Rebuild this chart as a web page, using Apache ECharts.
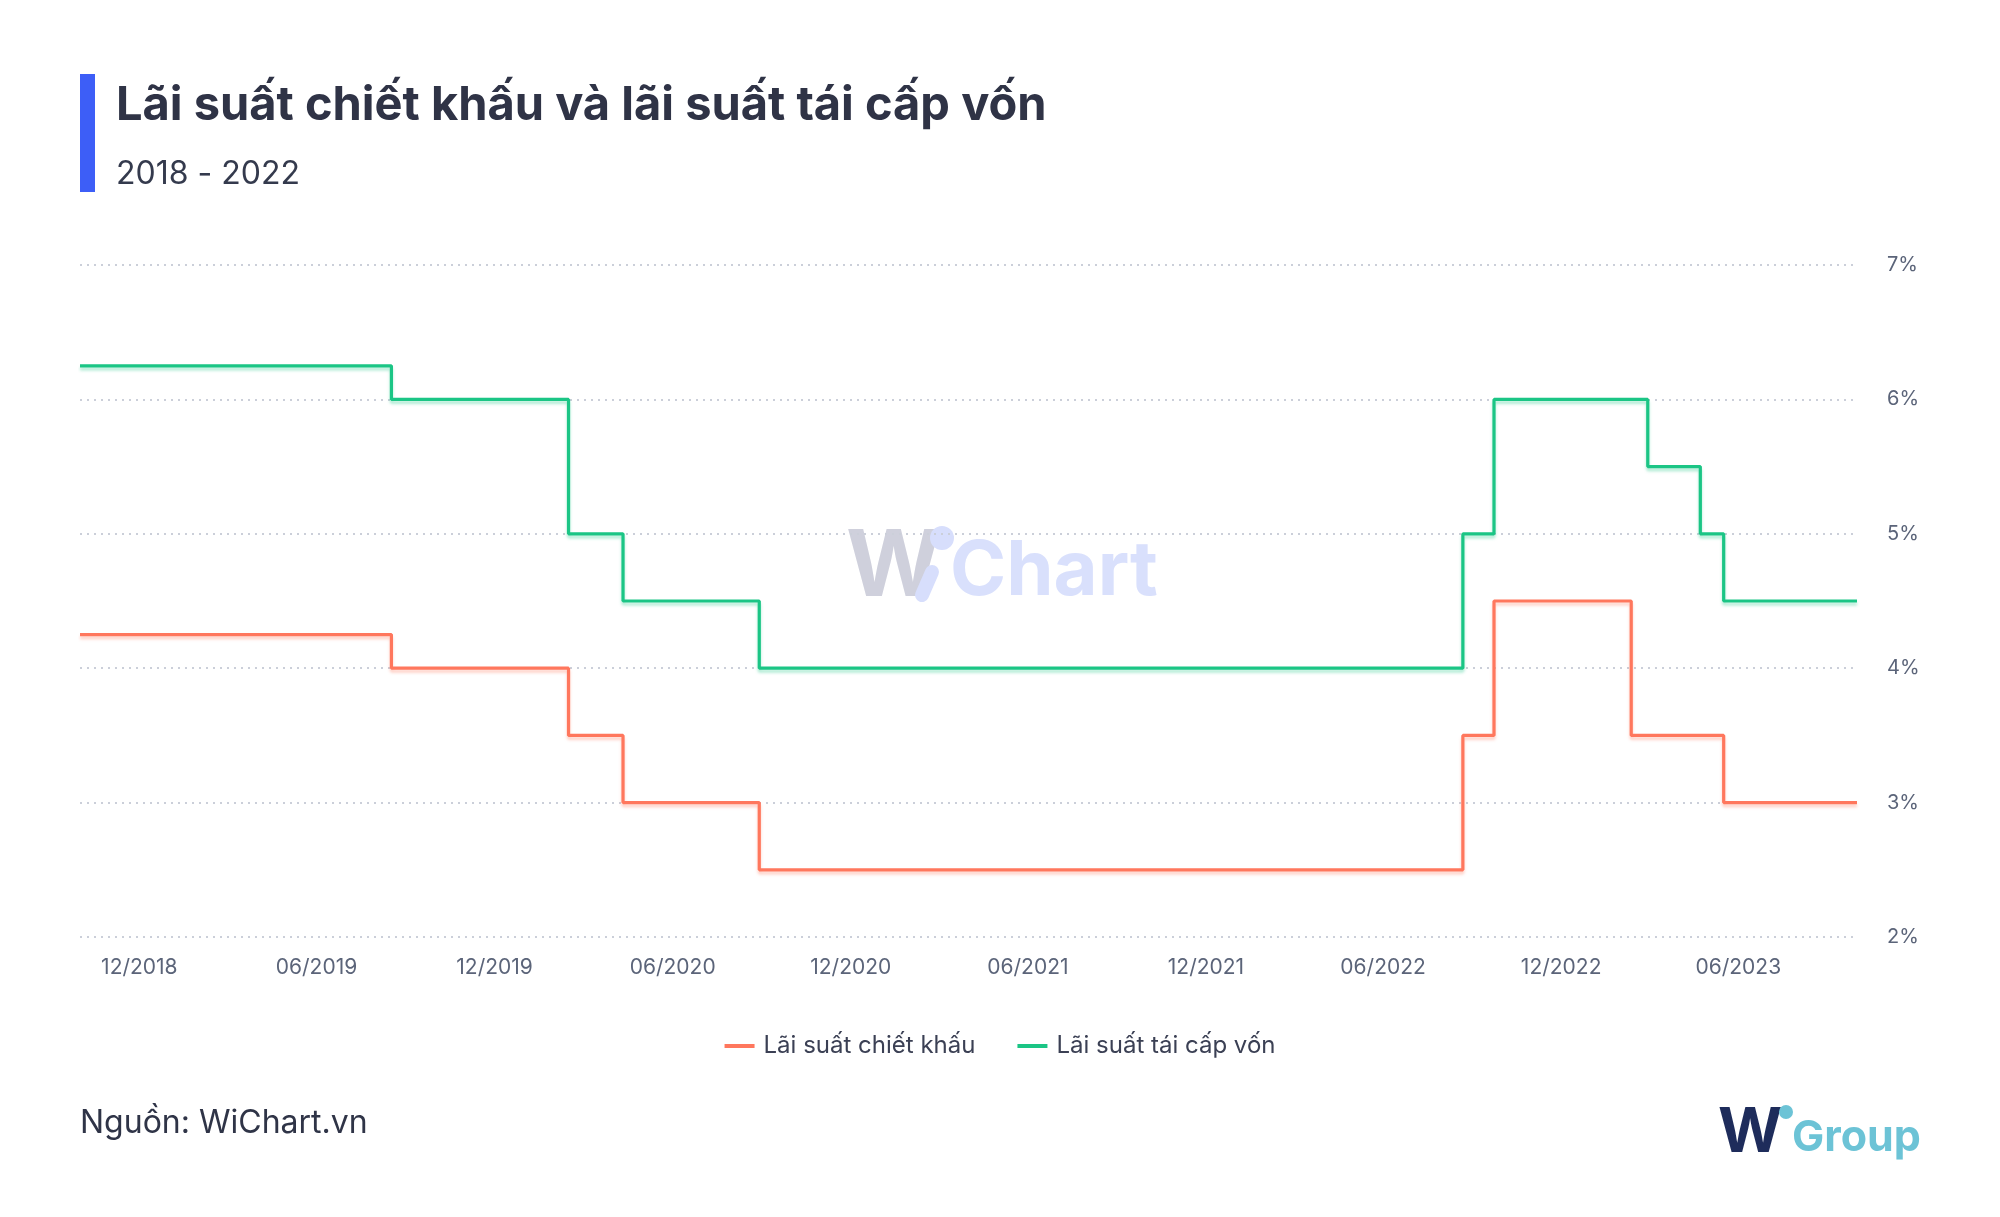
<!DOCTYPE html>
<html><head><meta charset="utf-8">
<script src="https://cdn.jsdelivr.net/npm/echarts@6/dist/echarts.min.js"></script>
<style>html,body{margin:0;padding:0;background:#fff}#c{width:2000px;height:1217px}</style>
</head><body><div id="c"></div>
<script>
// ---- data ----
const titleText = 'Lãi suất chiết khấu và lãi suất tái cấp vốn';
const subtitleText = '2018 - 2022';
const sourceText = 'Nguồn: WiChart.vn';
const seriesNames = ['Lãi suất chiết khấu', 'Lãi suất tái cấp vốn'];
const changeDates = ['2018-10-01','2019-08-17','2020-02-15','2020-04-11','2020-08-29','2022-08-22','2022-09-23','2023-02-11','2023-02-28','2023-04-23','2023-05-17','2023-10-01'];
const discountRate =    [4.25, 4.0, 3.5, 3.0, 2.5, 3.5, 4.5, 3.5, 3.5, 3.5, 3.0, 3.0];
const refinancingRate = [6.25, 6.0, 5.0, 4.5, 4.0, 5.0, 6.0, 6.0, 5.5, 5.0, 4.5, 4.5];
const xTickLabels = ['12/2018','06/2019','12/2019','06/2020','12/2020','06/2021','12/2021','06/2022','12/2022','06/2023'];
const yMin = 2, yMax = 7, yStep = 1;
const xMin = '2018-10-01', xMax = '2023-10-01';

const FONT = 'Inter, "Noto Sans", sans-serif';
const DAY = 86400000;
function tickToDay(lbl){ const p = lbl.split('/'); return Date.UTC(+p[1], +p[0]-1, 1) / DAY; }
function toDay(s){ const p = s.split('-'); return Date.UTC(+p[0], +p[1]-1, +p[2]) / DAY; }
const xTickValues = xTickLabels.map(tickToDay);
const discData = changeDates.map((d,i)=>[toDay(d), discountRate[i]]);
const refiData = changeDates.map((d,i)=>[toDay(d), refinancingRate[i]]);

const chart = echarts.init(document.getElementById('c'), null, {renderer:'canvas'});
const option = {
  backgroundColor: '#ffffff',
  animation: false,
  grid: { left: 80, right: 143, top: 265, bottom: 280, containLabel: false },
  xAxis: {
    type: 'value', min: toDay(xMin), max: toDay(xMax),
    axisLine: { show: false }, axisTick: { show: false }, splitLine: { show: false },
    axisLabel: {
      customValues: xTickValues,
      formatter: function(v){ const i = xTickValues.indexOf(v); return i >= 0 ? xTickLabels[i] : ''; },
      color: '#5b6479', fontSize: 21, fontFamily: FONT, margin: 20, hideOverlap: false,
      showMinLabel: true, showMaxLabel: true
    }
  },
  yAxis: {
    type: 'value', position: 'right', min: yMin, max: yMax, interval: yStep,
    axisLine: { show: false }, axisTick: { show: false },
    axisLabel: { formatter: '{value}%', color: '#5b6479', fontSize: 20, fontFamily: FONT, margin: 30, align: 'left' },
    splitLine: { show: true, lineStyle: { color: '#cbcfd9', width: 2, type: [2, 5] } }
  },
  legend: {
    data: seriesNames, left: 'center', top: 1029, icon: 'rect', itemWidth: 30, itemHeight: 4, itemGap: 42,
    textStyle: { fontSize: 24, color: '#3b4054', fontFamily: FONT, padding: [0,0,0,4] }
  },
  series: [
    { name: seriesNames[0], type: 'line', step: 'end', data: discData, showSymbol: false, symbol: 'none',
      color: '#ff775d',
      lineStyle: { width: 3.2, color: '#ff775d', shadowColor: 'rgba(255,119,93,0.35)', shadowBlur: 3, shadowOffsetY: 3 } },
    { name: seriesNames[1], type: 'line', step: 'end', data: refiData, showSymbol: false, symbol: 'none',
      color: '#1bc585',
      lineStyle: { width: 3.2, color: '#1bc585', shadowColor: 'rgba(27,197,133,0.35)', shadowBlur: 3, shadowOffsetY: 3 } }
  ],
  graphic: [
    { type: 'rect', left: 80, top: 74, shape: { width: 15, height: 118 }, style: { fill: '#3d5ef7' } },
    { type: 'text', x: 116, y: 106, style: { text: titleText, font: 'bold 47px ' + FONT, fill: '#2f3346', textVerticalAlign: 'middle' } },
    { type: 'text', x: 116, y: 174, style: { text: subtitleText, font: '32px ' + FONT, fill: '#343a4d', textVerticalAlign: 'middle' } },
    { type: 'text', x: 80, y: 1123, style: { text: sourceText, font: '32px ' + FONT, fill: '#2f3447', textVerticalAlign: 'middle' } },
    // watermark
    { type: 'group', z: -10, children: [
      { type: 'text', x: 846, y: 568, style: { text: 'W', font: 'bold 92px ' + FONT, fill: '#cfd0dc', textVerticalAlign: 'middle' } },
      { type: 'line', shape: { x1: 932, y1: 572, x2: 922, y2: 595 }, style: { stroke: '#d7defc', lineWidth: 14, lineCap: 'round' } },
      { type: 'circle', shape: { cx: 942, cy: 538, r: 12 }, style: { fill: '#d7defc' } },
      { type: 'text', x: 950, y: 572, style: { text: 'Chart', font: 'bold 76px ' + FONT, fill: '#d9e0fc', textVerticalAlign: 'middle' } }
    ]},
    // WiGroup logo
    { type: 'group', children: [
      { type: 'text', x: 1718, y: 1133, style: { text: 'W', font: 'bold 62px ' + FONT, fill: '#1e2c5b', textVerticalAlign: 'middle' } },
      { type: 'circle', shape: { cx: 1786, cy: 1112, r: 7 }, style: { fill: '#6cc3d6' } },
      { type: 'text', x: 1792, y: 1138, style: { text: 'Group', font: 'bold 43px ' + FONT, fill: '#6cc3d6', textVerticalAlign: 'middle' } }
    ]}
  ]
};
chart.setOption(option);
</script></body></html>
